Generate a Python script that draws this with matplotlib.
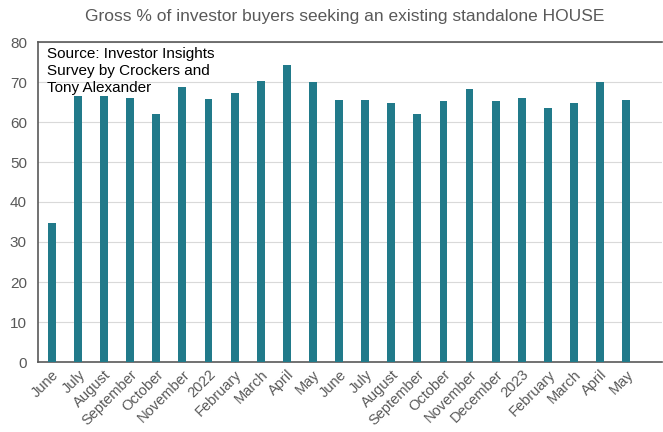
import matplotlib
matplotlib.use("Agg")
import matplotlib.pyplot as plt

plt.rcParams['font.family'] = ['Liberation Sans', 'DejaVu Sans']

labels = ["June", "July", "August", "September", "October", "November", "2022",
          "February", "March", "April", "May", "June", "July", "August",
          "September", "October", "November", "December", "2023", "February",
          "March", "April", "May"]
values = [34.8, 66.4, 66.6, 65.9, 62.1, 68.7, 65.8, 67.3, 70.3, 74.2, 69.9, 65.5,
          65.5, 64.7, 61.9, 65.3, 68.2, 65.3, 66.1, 63.5, 64.7, 70.1, 65.5]

title = "Gross % of investor buyers seeking an existing standalone HOUSE"
note = "Source: Investor Insights\nSurvey by Crockers and\nTony Alexander"

fig = plt.figure(figsize=(6.63, 4.32), dpi=100)
ax = fig.add_axes([38/663, 1 - 362/432, (662-38)/663, (362-42)/432])

x = list(range(len(labels)))
ax.bar(x, values, width=0.3, color="#217a8a", zorder=3)

ax.set_ylim(0, 80)
ax.set_yticks(range(0, 81, 10))
ax.set_xlim(-0.53, 23.37)
ax.set_xticks(x)
ax.set_xticklabels(labels, rotation=45, ha="right", rotation_mode="anchor",
                   fontsize=10.5, color="#595959")
ax.tick_params(axis="y", labelsize=11, labelcolor="#595959", length=0, pad=8)
ax.tick_params(axis="x", length=0, pad=4)
ax.grid(axis="y", color="#d9d9d9", linewidth=0.8, zorder=0)

for s in ["left", "bottom", "top"]:
    ax.spines[s].set_color("#595959")
    ax.spines[s].set_linewidth(1.2)
ax.spines["right"].set_visible(False)

ax.text(0.015, 0.985, note, transform=ax.transAxes, ha="left", va="top",
        fontsize=11, color="black", linespacing=1.3, zorder=5)

fig.text(345/663, 1 - 17/432, title, ha="center", va="center",
         fontsize=12.5, color="#595959")

fig.savefig("out.png", dpi=100)
